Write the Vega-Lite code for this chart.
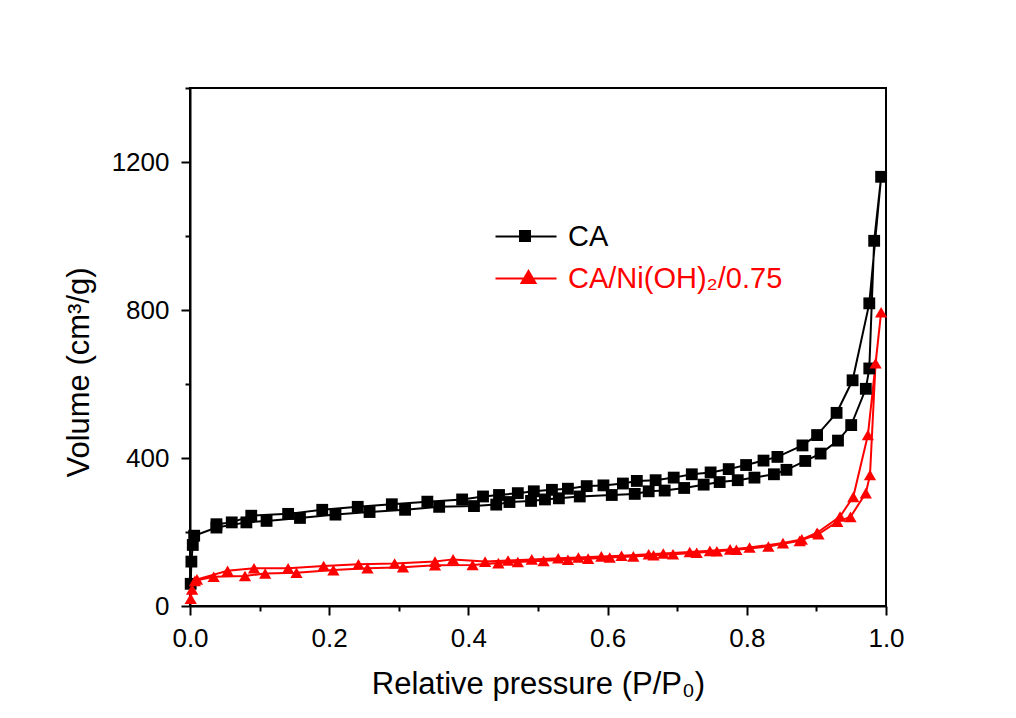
{
  "$schema": "https://vega.github.io/schema/vega-lite/v6.json",
  "width": 696,
  "height": 518,
  "autosize": {"type": "none"},
  "padding": {"left": 190, "top": 88, "right": 130, "bottom": 112},
  "background": "white",
  "config": {
    "view": {"stroke": "black", "strokeWidth": 2},
    "font": "Liberation Sans",
    "axis": {
      "grid": false, "domainColor": "black", "domainWidth": 2,
      "tickColor": "black", "tickWidth": 2, "labelColor": "black", "titleColor": "black",
      "labelFont": "Liberation Sans", "titleFont": "Liberation Sans",
      "labelFontSize": 26, "titleFontSize": 31, "titleFontWeight": "normal"
    },
    "legend": {
      "orient": "none", "legendX": 321, "legendY": 134, "title": null, "padding": 0,
      "symbolSize": 400, "symbolStrokeWidth": 2, "symbolOpacity": 1,
      "labelFontSize": 29, "labelFont": "Liberation Sans", "labelOffset": 28, "labelLimit": 600, "rowPadding": 12
    }
  },
  "data": {"values": [
    {"s":"CA","i":1,"p":0.001,"v":60},{"s":"CA","i":2,"p":0.002,"v":120},{"s":"CA","i":3,"p":0.004,"v":165},{"s":"CA","i":4,"p":0.006,"v":190},
    {"s":"CA","i":5,"p":0.038,"v":212},{"s":"CA","i":6,"p":0.081,"v":226},{"s":"CA","i":7,"p":0.110,"v":230},{"s":"CA","i":8,"p":0.158,"v":238},
    {"s":"CA","i":9,"p":0.209,"v":247},{"s":"CA","i":10,"p":0.258,"v":254},{"s":"CA","i":11,"p":0.309,"v":260},{"s":"CA","i":12,"p":0.358,"v":268},
    {"s":"CA","i":13,"p":0.408,"v":270},{"s":"CA","i":14,"p":0.440,"v":274},{"s":"CA","i":15,"p":0.459,"v":281},{"s":"CA","i":16,"p":0.490,"v":284},
    {"s":"CA","i":17,"p":0.510,"v":288},{"s":"CA","i":18,"p":0.530,"v":291},{"s":"CA","i":19,"p":0.560,"v":296},{"s":"CA","i":20,"p":0.606,"v":300},
    {"s":"CA","i":21,"p":0.639,"v":303},{"s":"CA","i":22,"p":0.659,"v":310},{"s":"CA","i":23,"p":0.682,"v":312},{"s":"CA","i":24,"p":0.710,"v":319},
    {"s":"CA","i":25,"p":0.738,"v":328},{"s":"CA","i":26,"p":0.761,"v":335},{"s":"CA","i":27,"p":0.787,"v":340},{"s":"CA","i":28,"p":0.811,"v":347},
    {"s":"CA","i":29,"p":0.839,"v":356},{"s":"CA","i":30,"p":0.857,"v":368},{"s":"CA","i":31,"p":0.884,"v":392},{"s":"CA","i":32,"p":0.906,"v":412},
    {"s":"CA","i":33,"p":0.931,"v":447},{"s":"CA","i":34,"p":0.950,"v":489},{"s":"CA","i":35,"p":0.971,"v":587},{"s":"CA","i":36,"p":0.976,"v":642},
    {"s":"CA","i":37,"p":0.983,"v":987},{"s":"CA","i":38,"p":0.993,"v":1160},
    {"s":"CA","i":39,"p":0.976,"v":818},{"s":"CA","i":40,"p":0.952,"v":610},{"s":"CA","i":41,"p":0.929,"v":522},{"s":"CA","i":42,"p":0.901,"v":462},
    {"s":"CA","i":43,"p":0.880,"v":434},{"s":"CA","i":44,"p":0.844,"v":403},{"s":"CA","i":45,"p":0.824,"v":393},{"s":"CA","i":46,"p":0.799,"v":381},
    {"s":"CA","i":47,"p":0.774,"v":370},{"s":"CA","i":48,"p":0.748,"v":361},{"s":"CA","i":49,"p":0.721,"v":356},{"s":"CA","i":50,"p":0.695,"v":347},
    {"s":"CA","i":51,"p":0.669,"v":340},{"s":"CA","i":52,"p":0.642,"v":338},{"s":"CA","i":53,"p":0.622,"v":331},{"s":"CA","i":54,"p":0.594,"v":326},
    {"s":"CA","i":55,"p":0.570,"v":324},{"s":"CA","i":56,"p":0.543,"v":317},{"s":"CA","i":57,"p":0.520,"v":314},{"s":"CA","i":58,"p":0.494,"v":310},
    {"s":"CA","i":59,"p":0.471,"v":305},{"s":"CA","i":60,"p":0.444,"v":300},{"s":"CA","i":61,"p":0.421,"v":296},{"s":"CA","i":62,"p":0.391,"v":288},
    {"s":"CA","i":63,"p":0.341,"v":282},{"s":"CA","i":64,"p":0.290,"v":275},{"s":"CA","i":65,"p":0.241,"v":268},{"s":"CA","i":66,"p":0.190,"v":260},
    {"s":"CA","i":67,"p":0.141,"v":249},{"s":"CA","i":68,"p":0.088,"v":244},{"s":"CA","i":69,"p":0.060,"v":226},{"s":"CA","i":70,"p":0.038,"v":221},
    {"s":"CA/Ni(OH)₂/0.75","i":1,"p":0.001,"v":20},{"s":"CA/Ni(OH)₂/0.75","i":2,"p":0.003,"v":45},{"s":"CA/Ni(OH)₂/0.75","i":3,"p":0.007,"v":68},
    {"s":"CA/Ni(OH)₂/0.75","i":4,"p":0.034,"v":79},{"s":"CA/Ni(OH)₂/0.75","i":5,"p":0.079,"v":81},{"s":"CA/Ni(OH)₂/0.75","i":6,"p":0.108,"v":88},
    {"s":"CA/Ni(OH)₂/0.75","i":7,"p":0.153,"v":90},{"s":"CA/Ni(OH)₂/0.75","i":8,"p":0.206,"v":97},{"s":"CA/Ni(OH)₂/0.75","i":9,"p":0.255,"v":102},
    {"s":"CA/Ni(OH)₂/0.75","i":10,"p":0.306,"v":105},{"s":"CA/Ni(OH)₂/0.75","i":11,"p":0.352,"v":110},{"s":"CA/Ni(OH)₂/0.75","i":12,"p":0.406,"v":111},
    {"s":"CA/Ni(OH)₂/0.75","i":13,"p":0.443,"v":116},{"s":"CA/Ni(OH)₂/0.75","i":14,"p":0.471,"v":119},{"s":"CA/Ni(OH)₂/0.75","i":15,"p":0.508,"v":122},
    {"s":"CA/Ni(OH)₂/0.75","i":16,"p":0.543,"v":125},{"s":"CA/Ni(OH)₂/0.75","i":17,"p":0.572,"v":128},{"s":"CA/Ni(OH)₂/0.75","i":18,"p":0.603,"v":131},
    {"s":"CA/Ni(OH)₂/0.75","i":19,"p":0.637,"v":134},{"s":"CA/Ni(OH)₂/0.75","i":20,"p":0.666,"v":137},{"s":"CA/Ni(OH)₂/0.75","i":21,"p":0.694,"v":140},
    {"s":"CA/Ni(OH)₂/0.75","i":22,"p":0.728,"v":144},{"s":"CA/Ni(OH)₂/0.75","i":23,"p":0.757,"v":148},{"s":"CA/Ni(OH)₂/0.75","i":24,"p":0.785,"v":152},
    {"s":"CA/Ni(OH)₂/0.75","i":25,"p":0.831,"v":161},{"s":"CA/Ni(OH)₂/0.75","i":26,"p":0.876,"v":176},{"s":"CA/Ni(OH)₂/0.75","i":27,"p":0.903,"v":194},
    {"s":"CA/Ni(OH)₂/0.75","i":28,"p":0.930,"v":228},{"s":"CA/Ni(OH)₂/0.75","i":29,"p":0.949,"v":241},{"s":"CA/Ni(OH)₂/0.75","i":30,"p":0.971,"v":305},
    {"s":"CA/Ni(OH)₂/0.75","i":31,"p":0.977,"v":354},{"s":"CA/Ni(OH)₂/0.75","i":32,"p":0.985,"v":656},{"s":"CA/Ni(OH)₂/0.75","i":33,"p":0.993,"v":794},
    {"s":"CA/Ni(OH)₂/0.75","i":34,"p":0.974,"v":462},{"s":"CA/Ni(OH)₂/0.75","i":35,"p":0.953,"v":295},{"s":"CA/Ni(OH)₂/0.75","i":36,"p":0.934,"v":242},
    {"s":"CA/Ni(OH)₂/0.75","i":37,"p":0.901,"v":198},{"s":"CA/Ni(OH)₂/0.75","i":38,"p":0.879,"v":180},{"s":"CA/Ni(OH)₂/0.75","i":39,"p":0.852,"v":170},
    {"s":"CA/Ni(OH)₂/0.75","i":40,"p":0.804,"v":158},{"s":"CA/Ni(OH)₂/0.75","i":41,"p":0.776,"v":153},{"s":"CA/Ni(OH)₂/0.75","i":42,"p":0.747,"v":149},
    {"s":"CA/Ni(OH)₂/0.75","i":43,"p":0.718,"v":146},{"s":"CA/Ni(OH)₂/0.75","i":44,"p":0.680,"v":142},{"s":"CA/Ni(OH)₂/0.75","i":45,"p":0.659,"v":140},
    {"s":"CA/Ni(OH)₂/0.75","i":46,"p":0.620,"v":136},{"s":"CA/Ni(OH)₂/0.75","i":47,"p":0.591,"v":134},{"s":"CA/Ni(OH)₂/0.75","i":48,"p":0.558,"v":131},
    {"s":"CA/Ni(OH)₂/0.75","i":49,"p":0.529,"v":129},{"s":"CA/Ni(OH)₂/0.75","i":50,"p":0.491,"v":126},{"s":"CA/Ni(OH)₂/0.75","i":51,"p":0.457,"v":123},
    {"s":"CA/Ni(OH)₂/0.75","i":52,"p":0.424,"v":120},{"s":"CA/Ni(OH)₂/0.75","i":53,"p":0.378,"v":126},{"s":"CA/Ni(OH)₂/0.75","i":54,"p":0.352,"v":120},
    {"s":"CA/Ni(OH)₂/0.75","i":55,"p":0.294,"v":115},{"s":"CA/Ni(OH)₂/0.75","i":56,"p":0.242,"v":113},{"s":"CA/Ni(OH)₂/0.75","i":57,"p":0.192,"v":108},
    {"s":"CA/Ni(OH)₂/0.75","i":58,"p":0.141,"v":102},{"s":"CA/Ni(OH)₂/0.75","i":59,"p":0.092,"v":102},{"s":"CA/Ni(OH)₂/0.75","i":60,"p":0.054,"v":95},
    {"s":"CA/Ni(OH)₂/0.75","i":61,"p":0.010,"v":72}
  ]},
  "layer": [
    {
      "mark": {"type": "line", "strokeWidth": 2},
      "encoding": {
        "x": {"field": "p", "type": "quantitative", "scale": {"domain": [0, 1], "nice": false, "zero": false},
          "axis": {"orient": "bottom", "values": [0, 0.2, 0.4, 0.6, 0.8, 1.0], "format": ".1f", "tickSize": 9, "labelPadding": 10,
            "title": "Relative pressure (P/P₀)", "titleY": 87, "titleBaseline": "alphabetic", "labelFlush": false}},
        "y": {"field": "v", "type": "quantitative", "scale": {"domain": [0, 1400], "nice": false},
          "axis": {"orient": "left", "values": [0, 400, 800, 1200], "format": "d", "tickSize": 9, "labelPadding": 12,
            "title": "Volume (cm³/g)", "titleX": -102, "titleY": 284, "titleAngle": -90, "titleAlign": "center", "titleBaseline": "alphabetic"}},
        "color": {"field": "s", "type": "nominal",
          "scale": {"domain": ["CA", "CA/Ni(OH)₂/0.75"], "range": ["#000000", "#ff0000"]},
          "legend": {
            "encode": {
              "labels": {"update": {"fill": {"signal": "datum.value === 'CA' ? '#000000' : '#ff0000'"}}}
            }
          }},
        "order": {"field": "i", "type": "quantitative"}
      }
    },
    {
      "transform": [{"filter": "datum.s === 'CA'"}],
      "mark": {"type": "point", "filled": true, "opacity": 1, "size": 140, "shape": "square", "color": "#000000"},
      "encoding": {
        "x": {"field": "p", "type": "quantitative",
          "axis": {"orient": "bottom", "values": [0.1, 0.3, 0.5, 0.7, 0.9], "tickSize": 5, "labels": false, "title": null, "domain": false}},
        "y": {"field": "v", "type": "quantitative",
          "axis": {"orient": "left", "values": [200, 600, 1000, 1400], "tickSize": 5, "labels": false, "title": null, "domain": false}}
      }
    },
    {
      "transform": [{"filter": "datum.s !== 'CA'"}],
      "mark": {"type": "point", "filled": true, "opacity": 1, "size": 150, "shape": "triangle-up", "color": "#ff0000"},
      "encoding": {
        "x": {"field": "p", "type": "quantitative", "axis": null},
        "y": {"field": "v", "type": "quantitative", "axis": null}
      }
    },
    {
      "mark": {"type": "point", "filled": true, "opacity": 0, "strokeWidth": 2},
      "encoding": {
        "x": {"field": "p", "type": "quantitative", "axis": null},
        "y": {"field": "v", "type": "quantitative", "axis": null},
        "color": {"field": "s", "type": "nominal",
          "legend": {
            "encode": {
              "labels": {"update": {"fill": {"signal": "datum.value === 'CA' ? '#000000' : '#ff0000'"}}}
            }
          }},
        "stroke": {"field": "s", "type": "nominal",
          "scale": {"domain": ["CA", "CA/Ni(OH)₂/0.75"], "range": ["#000000", "#ff0000"]}},
        "shape": {"field": "s", "type": "nominal",
          "scale": {"domain": ["CA", "CA/Ni(OH)₂/0.75"], "range": ["M-3,0H3.1M-0.55,-0.55H0.45V0.45H-0.55Z", "M-3,0H3.1M0.3,-0.75L1.0,0.45H-0.4Z"]}}
      }
    }
  ],
  "resolve": {"axis": {"x": "independent", "y": "independent"}}
}
